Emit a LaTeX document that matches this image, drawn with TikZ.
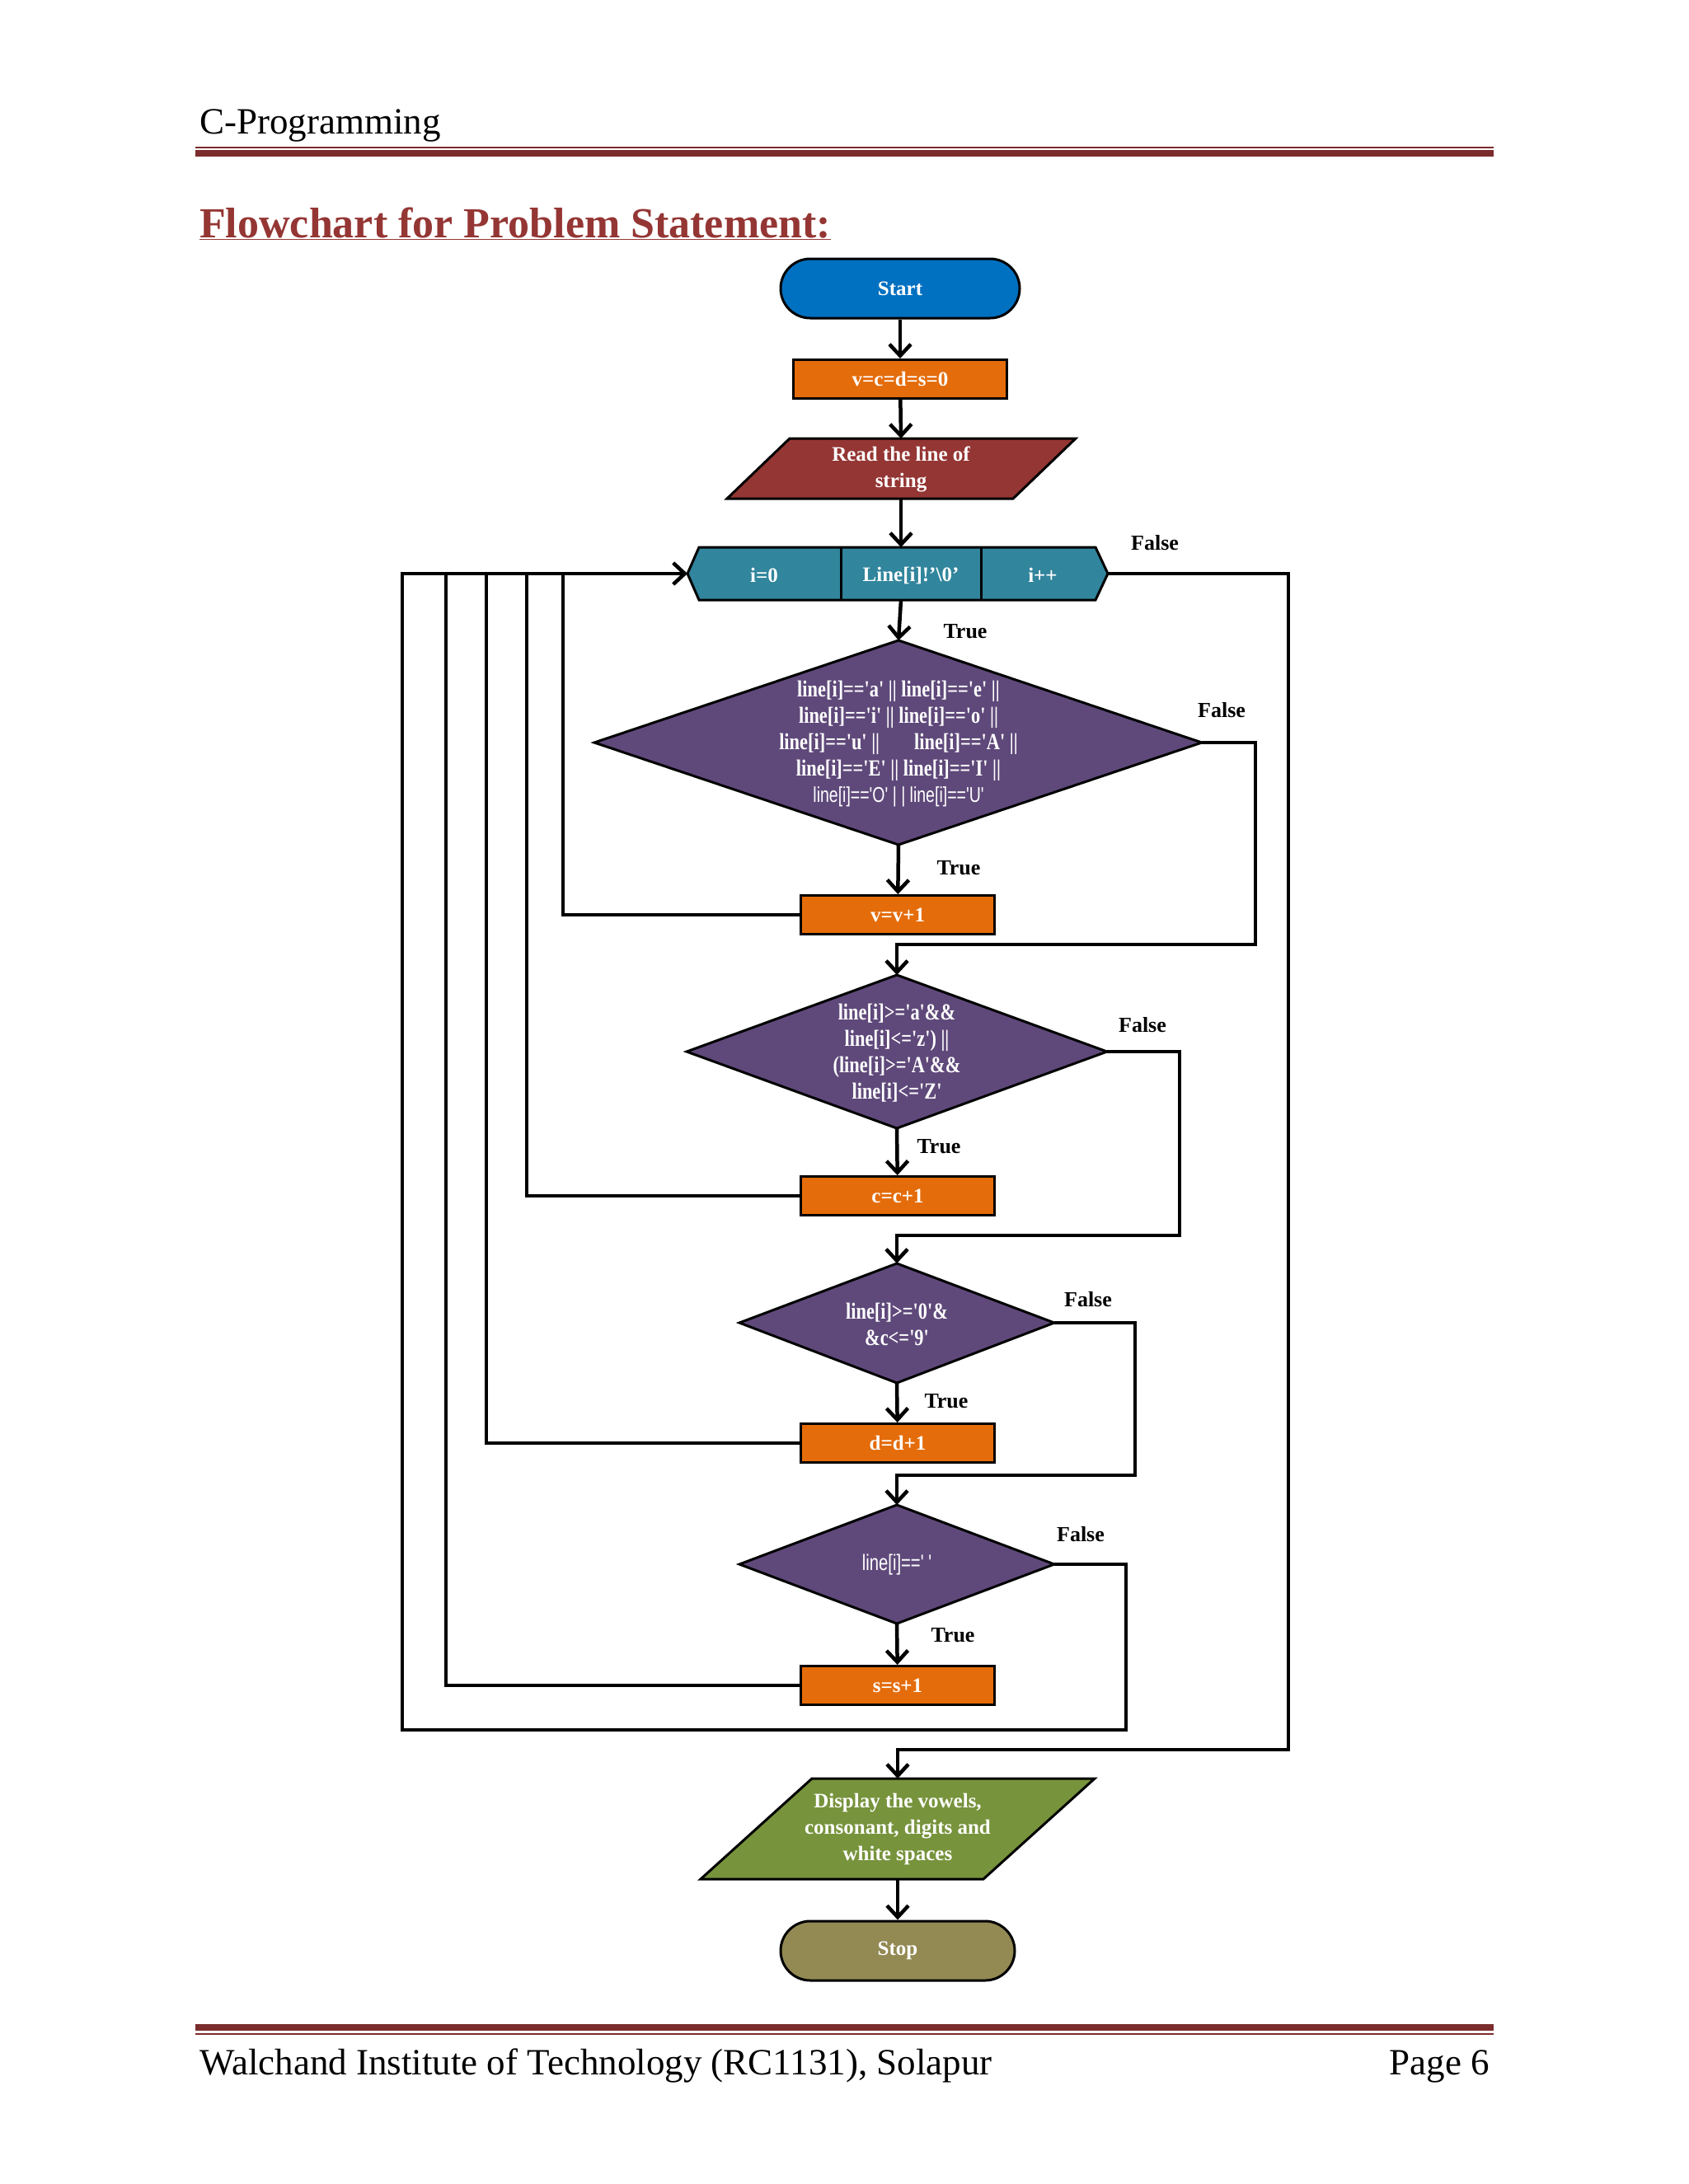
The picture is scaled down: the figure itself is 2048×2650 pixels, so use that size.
\documentclass[tikz,border=0pt]{standalone}
\usepackage{fontspec}
\setmainfont{Liberation Serif}
\newfontfamily\condf{Liberation Serif}[FakeStretch=0.8]
\newfontfamily\condsans{Liberation Sans}[FakeStretch=0.75]
\usetikzlibrary{shapes.misc,arrows.meta}
\definecolor{startblue}{HTML}{0070C0}
\definecolor{procor}{HTML}{E46C0A}
\definecolor{readred}{HTML}{943634}
\definecolor{hexteal}{HTML}{31859C}
\definecolor{decpur}{HTML}{5F497A}
\definecolor{dispgreen}{HTML}{77933C}
\definecolor{stopol}{HTML}{938953}
\definecolor{rulered}{HTML}{7B2C2C}
\definecolor{titlered}{HTML}{943634}
\begin{document}
\begin{tikzpicture}[x=1pt,y=-1pt,
  shp/.style={draw=black,line width=3pt},
  wtxt/.style={text=white,font=\bfseries\fontsize{25}{32}\selectfont,align=center,inner sep=0},
  dtxt/.style={text=white,font=\condf\bfseries\fontsize{28}{32}\selectfont,align=center,inner sep=0},
  term/.style={shp,rounded rectangle,minimum width=290pt,minimum height=72pt,wtxt},
  proc/.style={shp,rectangle,minimum height=47pt,wtxt},
  lbl/.style={font=\bfseries\fontsize{26}{30}\selectfont,inner sep=0},
  conn/.style={line width=4.5pt},
  arr/.style={conn,-{Straight Barb[length=14pt,width=26pt,line width=4.5pt]}}]
\useasboundingbox (0,0) rectangle (2048,2650);
\fill[white] (0,0) rectangle (2048,2650);
% header
\node[anchor=base west,font=\fontsize{45}{50}\selectfont,inner sep=0] (hdr) at (242,162) {C-Programming};
\draw[rulered,line width=1.5pt] (237,179) -- (1812,179);
\draw[rulered,line width=8pt] (237,186) -- (1812,186);
\node[anchor=base west,font=\bfseries\fontsize{52}{56}\selectfont,text=titlered,inner sep=0] (ttl) at (242,288) {\underline{Flowchart for Problem Statement:}};
% footer
\draw[rulered,line width=8pt] (237,2460) -- (1812,2460);
\draw[rulered,line width=1.5pt] (237,2468) -- (1812,2468);
\node[anchor=base west,font=\fontsize{45}{50}\selectfont,inner sep=0] (ftl) at (242,2517) {Walchand Institute of Technology (RC1131), Solapur};
\node[anchor=base east,font=\fontsize{45}{50}\selectfont,inner sep=0] (ftr) at (1807,2517) {Page 6};

% nodes
\node[term,fill=startblue] (start) at (1092,350) {Start};
\node[proc,fill=procor,minimum width=259pt] (init) at (1092,460) {v=c=d=s=0};
\draw[shp,fill=readred] (958,532) -- (1305,532) -- (1229,605) -- (882,605) -- cycle;
\node[wtxt] (read) at (1093,569) {Read the line of\\string};
\coordinate (readT) at (1093,532); \coordinate (readB) at (1093,605);
% hexagon
\draw[shp,fill=hexteal] (834,696) -- (848,664) -- (1329,664) -- (1344,696) -- (1329,728) -- (848,728) -- cycle;
\draw[shp] (1020,664) -- (1020,728) (1190,664) -- (1190,728);
\node[wtxt] (h1) at (927,698) {i=0};
\node[wtxt] (h2) at (1105,698) {Line[i]!’\textbackslash0’};
\node[wtxt] (h3) at (1265,698) {i++};
\coordinate (hexT) at (1093,664); \coordinate (hexB) at (1093,728);
\coordinate (hexL) at (834,696); \coordinate (hexR) at (1344,696);
% diamond 1
\draw[shp,fill=decpur] (721,901) -- (1090,777) -- (1458,901) -- (1090,1025) -- cycle;
\node[dtxt] (d1) at (1090,903) {line[i]=='a' || line[i]=='e' ||\\line[i]=='i' || line[i]=='o' ||\\line[i]=='u' ||\hspace{1.5em}line[i]=='A' ||\\line[i]=='E' || line[i]=='I' ||\\{\condsans\mdseries\fontsize{26}{32}\selectfont line[i]=='O' | | line[i]=='U'}};
\coordinate (d1T) at (1090,777); \coordinate (d1B) at (1090,1025); \coordinate (d1R) at (1458,901);
\node[proc,fill=procor,minimum width=235pt] (vv) at (1089,1110) {v=v+1};
% diamond 2
\draw[shp,fill=decpur] (833,1276) -- (1088,1183) -- (1343,1276) -- (1088,1369) -- cycle;
\node[dtxt] (d2) at (1088,1278) {line[i]>='a'\&\&\\line[i]<='z') ||\\(line[i]>='A'\&\&\\line[i]<='Z'};
\coordinate (d2T) at (1088,1183); \coordinate (d2B) at (1088,1369); \coordinate (d2R) at (1343,1276);
\node[proc,fill=procor,minimum width=235pt] (cc) at (1089,1451) {c=c+1};
% diamond 3
\draw[shp,fill=decpur] (897,1605) -- (1088,1533) -- (1279,1605) -- (1088,1678) -- cycle;
\node[dtxt] (d3) at (1088,1607) {line[i]>='0'\&\\\&c<='9'};
\coordinate (d3T) at (1088,1533); \coordinate (d3B) at (1088,1678); \coordinate (d3R) at (1279,1605);
\node[proc,fill=procor,minimum width=235pt] (dd) at (1089,1751) {d=d+1};
% diamond 4
\draw[shp,fill=decpur] (897,1898) -- (1088,1826) -- (1279,1898) -- (1088,1970) -- cycle;
\node[dtxt,font=\condsans\fontsize{27}{32}\selectfont] (d4) at (1088,1898) {line[i]==' '};
\coordinate (d4T) at (1088,1826); \coordinate (d4B) at (1088,1970); \coordinate (d4R) at (1279,1898);
\node[proc,fill=procor,minimum width=235pt] (ss) at (1089,2045) {s=s+1};
% display
\draw[shp,fill=dispgreen] (985,2158) -- (1328,2158) -- (1193,2280) -- (850,2280) -- cycle;
\node[wtxt] (disp) at (1089,2219) {Display the vowels,\\consonant, digits and\\white spaces};
\coordinate (dispT) at (1089,2158); \coordinate (dispB) at (1089,2280);
\node[term,fill=stopol,minimum width=284pt] (stop) at (1089,2367) {Stop};

% connectors
\draw[arr] (start) -- (init);
\draw[arr] (init) -- (readT);
\draw[arr] (readB) -- (hexT);
\draw[arr] (hexB) -- (d1T);
\draw[arr] (d1B) -- (vv);
\draw[arr] (d1R) -| (1523,1146) -| (d2T);
\draw[arr] (d2B) -- (cc);
\draw[arr] (d2R) -| (1431,1499) -| (d3T);
\draw[arr] (d3B) -- (dd);
\draw[arr] (d3R) -| (1377,1790) -| (d4T);
\draw[arr] (d4B) -- (ss);
\draw[arr] (d4R) -| (1366,2099) -| (488,696) -- (hexL);
\draw[conn] (vv.west) -| (683,696);
\draw[conn] (cc.west) -| (639,696);
\draw[conn] (dd.west) -| (590,696);
\draw[conn] (ss.west) -| (541,696);
\draw[arr] (hexR) -| (1563,2123) -| (dispT);
\draw[arr] (dispB) -- (stop);

% labels
\node[lbl] (l1) at (1401,659) {False};
\node[lbl] (l2) at (1171,766) {True};
\node[lbl] (l3) at (1482,862) {False};
\node[lbl] (l4) at (1163,1053) {True};
\node[lbl] (l5) at (1386,1244) {False};
\node[lbl] (l6) at (1139,1391) {True};
\node[lbl] (l7) at (1320,1577) {False};
\node[lbl] (l8) at (1148,1700) {True};
\node[lbl] (l9) at (1311,1862) {False};
\node[lbl] (l10) at (1156,1984) {True};
\end{tikzpicture}
\end{document}
